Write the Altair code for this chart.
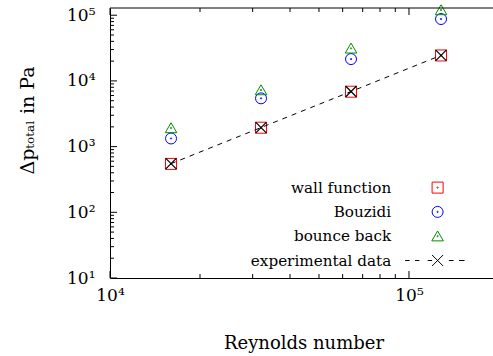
import altair as alt
import pandas as pd

# Measured pressure drop against Reynolds number
reynolds = [16000, 32000, 64000, 128000]
wall_function = [545, 1940, 6850, 24400]
bouzidi = [1330, 5430, 21500, 87500]
bounce_back = [1920, 7260, 31300, 120000]
experimental = [550, 1950, 6900, 24500]

series_names = ["wall function", "Bouzidi", "bounce back", "experimental data"]
series_colors = ["#ff0000", "#0000ff", "#008c00", "#000000"]

# Axis ticks and their labels
x_major = [1e4, 1e5]
x_major_labels = ["10⁴", "10⁵"]
x_minor = [2e4, 3e4, 4e4, 5e4, 6e4, 7e4, 8e4, 9e4]
y_major = [1e1, 1e2, 1e3, 1e4, 1e5]
y_major_labels = ["10¹", "10²", "10³", "10⁴", "10⁵"]
y_minor = [m * 10 ** e for e in range(1, 5) for m in range(2, 10)]

W, H = 383, 270
FONT = "DejaVu Serif"

xs = alt.Scale(type="log", domain=[1e4, 1.91e5], nice=False)
ys = alt.Scale(type="log", domain=[10, 1.288e5], nice=False)

# Marker outlines with a centre dot (unit box [-1, 1])
dot = "M0.12,0A0.12,0.12 0 1,1 -0.12,0A0.12,0.12 0 1,1 0.12,0Z"
square = "M-1,-1H1V1H-1Z" + dot
circle = "M1,0A1,1 0 1,1 -1,0A1,1 0 1,1 1,0Z" + dot
triangle = "M0,-0.95L1.05,0.85H-1.05Z" + dot
cross = "M-1,-1L1,1M-1,1L1,-1"
cross_with_dashes = (cross + "M-5.9,0H-5.1M-4.1,0H-3.3M-1.8,0H-1.0"
                     "M2.05,0H2.9M3.9,0H4.9")


def label_expr(values, labels):
    parts = [f"datum.value == {v} ? '{l}'" for v, l in zip(values, labels)]
    return " : ".join(parts) + " : ''"


rows = []
for name, vals in zip(series_names[:3], [wall_function, bouzidi, bounce_back]):
    for re_, dp in zip(reynolds, vals):
        rows.append({"series": name, "reynolds": re_, "dp": dp})
sim = pd.DataFrame(rows)
exp = pd.DataFrame({"reynolds": reynolds, "dp": experimental})

legend = alt.Legend(
    orient="none", legendX=320, legendY=172, title=None,
    labelAlign="right", labelOffset=alt.ExprRef(expr="-54"),
    labelFont=FONT, labelFontSize=15.2,
    labelColor="black", rowPadding=8.3, padding=0, symbolSize=121,
    symbolStrokeWidth=1, labelLimit=300,
)

x_axis = alt.Axis(
    values=x_major, labelExpr=label_expr(x_major, x_major_labels),
    ticks=False, grid=False, domainColor="black", domainWidth=1,
    labelFont=FONT, labelFontSize=17, labelColor="black", labelPadding=9,
    labelFlush=False, title="Reynolds number", titleFont=FONT,
    titleFontSize=18, titleFontWeight="normal", titleColor="black",
    titleX=W / 2 + 2, titleY=65, titleBaseline="middle",
)
y_axis = alt.Axis(
    values=y_major, labelExpr=label_expr(y_major, y_major_labels),
    ticks=False, grid=False, domainColor="black", domainWidth=1,
    labelFont=FONT, labelFontSize=17, labelColor="black", labelPadding=15,
    labelFlush=False, title="Δpₜₒₜₐₗ in Pa", titleFont=FONT,
    titleFontSize=19, titleFontWeight="normal", titleColor="black",
    titleX=-83, titleY=112, titleBaseline="middle", titleAngle=270,
)

X = alt.X("reynolds:Q", scale=xs, axis=x_axis)
Y = alt.Y("dp:Q", scale=ys, axis=y_axis)

points = alt.Chart(sim).mark_point(filled=False, size=121, strokeWidth=1, opacity=1).encode(
    x=X, y=Y,
    color=alt.Color("series:N", scale=alt.Scale(domain=series_names, range=series_colors),
                    legend=legend),
    shape=alt.Shape("series:N", scale=alt.Scale(domain=series_names,
                                                range=[square, circle, triangle, cross_with_dashes]),
                    legend=legend),
)

exp_line = alt.Chart(exp).mark_line(color="black", strokeWidth=1, strokeDash=[5, 5]).encode(
    x=X, y=Y,
)
exp_points = alt.Chart(exp).mark_point(filled=False, size=121, strokeWidth=1.2,
                                        color="black", opacity=1).encode(
    x=X, y=Y, shape=alt.value(cross),
)


def x_ticks(values, y0, y1):
    return alt.Chart(pd.DataFrame({"reynolds": values})).mark_rule(
        color="black", strokeWidth=1).encode(
        x=X, y=alt.value(y0), y2=alt.value(y1))


def y_ticks(values, x0, x1):
    return alt.Chart(pd.DataFrame({"dp": values})).mark_rule(
        color="black", strokeWidth=1).encode(
        y=Y, x=alt.value(x0), x2=alt.value(x1))


top_border = alt.Chart(pd.DataFrame({"a": [0]})).mark_rule(color="black", strokeWidth=1).encode(
    x=alt.value(0), x2=alt.value(W), y=alt.value(0))

chart = alt.layer(
    points,
    top_border,
    x_ticks(x_major, H, H - 7), x_ticks(x_minor, H, H - 4),
    x_ticks(x_major, 0, 7), x_ticks(x_minor, 0, 4),
    y_ticks(y_major, 0, 7), y_ticks(y_minor, 0, 4),
    exp_line,
    exp_points,
).properties(
    width=W, height=H,
    autosize=alt.AutoSizeParams(type="none"),
    padding={"left": 110, "top": 8, "right": 0, "bottom": 78},
    background="white",
).configure_view(stroke=None)

chart.save("out.html", embed_options={"renderer": "svg", "actions": False})
